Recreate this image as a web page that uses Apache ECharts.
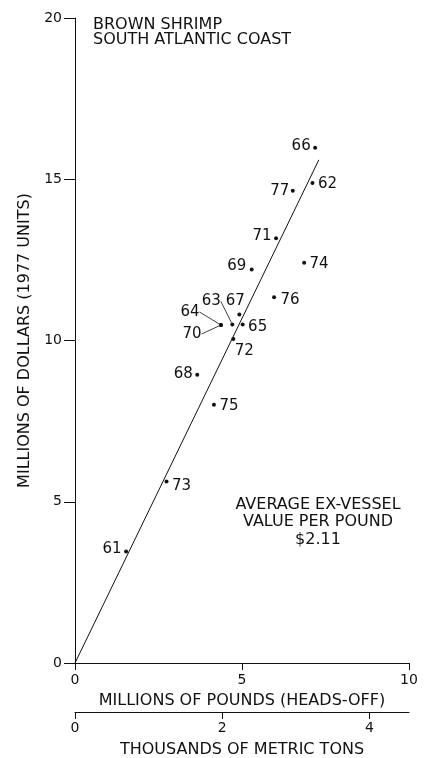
<!DOCTYPE html>
<html>
<head>
<meta charset="utf-8">
<script src="https://cdn.jsdelivr.net/npm/echarts@6/dist/echarts.min.js"></script>
<style>
html,body{margin:0;padding:0;background:#fff;}
#main{width:429px;height:758px;}
</style>
</head>
<body>
<div id="main"></div>
<script>
// season years, landings (millions of lbs heads-off), value (millions of 1977 dollars)
var years   = ['61','62','63','64','65','66','67','68','69','70','71','72','73','74','75','76','77'];
var pounds  = [1.53, 7.11, 4.71, 4.37, 5.02, 7.19, 4.92, 3.66, 5.29, 4.37, 6.02, 4.74, 2.74, 6.86, 4.16, 5.96, 6.52];
var dollars = [3.46, 14.88, 10.50, 10.48, 10.50, 15.98, 10.81, 8.94, 12.20, 10.48, 13.17, 10.05, 5.63, 12.41, 8.01, 11.34, 14.64];
// fitted line end points
var fitLine = [[0, 0], [7.3, 15.6]];
var lbsPerMetricTon = 2.2046; // million lbs per thousand metric tons

// label offsets from each dot (px), and which get a leader line
var labelOffset = [[-14,-2],[15,1],[-21,-23],[-31,-13],[15,3],[-14,-2],[-4,-13],[-14,-1],[-15,-3],[-29,9],[-14,-2],[11,12],[15,5],[15,1],[15,1],[16,3],[-13,0]];
var leader = {'63':true,'64':true,'70':true};

var FONT = '"DejaVu Sans", sans-serif';
var INK = '#111';

var myChart = echarts.init(document.getElementById('main'));

var pts = [];
for (var i = 0; i < years.length; i++) {
    pts.push({
        name: years[i],
        value: [pounds[i], dollars[i]],
        labelLine: {show: !!leader[years[i]], lineStyle: {color: INK, width: 0.8, opacity: 1}}
    });
}

var option = {
    backgroundColor: '#fff',
    animation: false,
    grid: {left: 75, right: 20, top: 18, bottom: 95, outerBoundsMode: 'none', containLabel: false},
    xAxis: [{
        type: 'value', min: 0, max: 10, interval: 5,
        name: 'MILLIONS OF POUNDS (HEADS-OFF)', nameLocation: 'middle', nameGap: 30,
        nameTextStyle: {fontFamily: FONT, fontSize: 16, color: INK},
        axisLine: {lineStyle: {color: INK, width: 1}},
        axisTick: {length: 7, lineStyle: {color: INK}},
        axisLabel: {fontFamily: FONT, fontSize: 14, color: INK, margin: 10},
        splitLine: {show: false}
    }, {
        type: 'value', position: 'bottom', offset: 49,
        min: 0, max: 10 / lbsPerMetricTon, interval: 2,
        name: 'THOUSANDS OF METRIC TONS', nameLocation: 'middle', nameGap: 30,
        nameTextStyle: {fontFamily: FONT, fontSize: 16, color: INK},
        axisLine: {lineStyle: {color: INK, width: 1}},
        axisTick: {length: 7, lineStyle: {color: INK}},
        axisLabel: {fontFamily: FONT, fontSize: 14, color: INK, margin: 9, showMaxLabel: false},
        splitLine: {show: false}
    }],
    yAxis: {
        type: 'value', min: 0, max: 20, interval: 5,
        name: 'MILLIONS OF DOLLARS (1977 UNITS)', nameLocation: 'middle', nameGap: 39,
        nameTextStyle: {fontFamily: FONT, fontSize: 16, color: INK},
        axisLine: {show: true, lineStyle: {color: INK, width: 1}},
        axisTick: {show: true, length: 11, lineStyle: {color: INK}},
        axisLabel: {fontFamily: FONT, fontSize: 14, color: INK, margin: 13},
        splitLine: {show: false}
    },
    graphic: [{
        type: 'text', x: 93, y: 18,
        style: {text: 'BROWN SHRIMP\nSOUTH ATLANTIC COAST', font: '16px ' + FONT, fill: INK, lineHeight: 14.5}
    }, {
        type: 'text', x: 318, y: 496,
        style: {text: 'AVERAGE EX-VESSEL\nVALUE PER POUND\n$2.11', font: '16px ' + FONT, fill: INK, lineHeight: 17.5, align: 'center', textAlign: 'center'}
    }],
    series: [{
        type: 'line',
        xAxisIndex: 0,
        data: fitLine,
        symbol: 'none',
        lineStyle: {color: INK, width: 1},
        silent: true
    }, {
        type: 'scatter',
        xAxisIndex: 0,
        data: pts,
        symbolSize: 4,
        itemStyle: {color: INK, opacity: 1},
        label: {
            show: true, position: 'inside', formatter: '{b}',
            fontFamily: FONT, fontSize: 15, color: INK, opacity: 1,
            textBorderWidth: 0
        },
        labelLayout: function (p) {
            var o = labelOffset[p.dataIndex];
            return {dx: o[0], dy: o[1]};
        }
    }, {
        type: 'scatter',
        xAxisIndex: 1,
        data: [],
        silent: true
    }]
};
myChart.setOption(option);
</script>
</body>
</html>
